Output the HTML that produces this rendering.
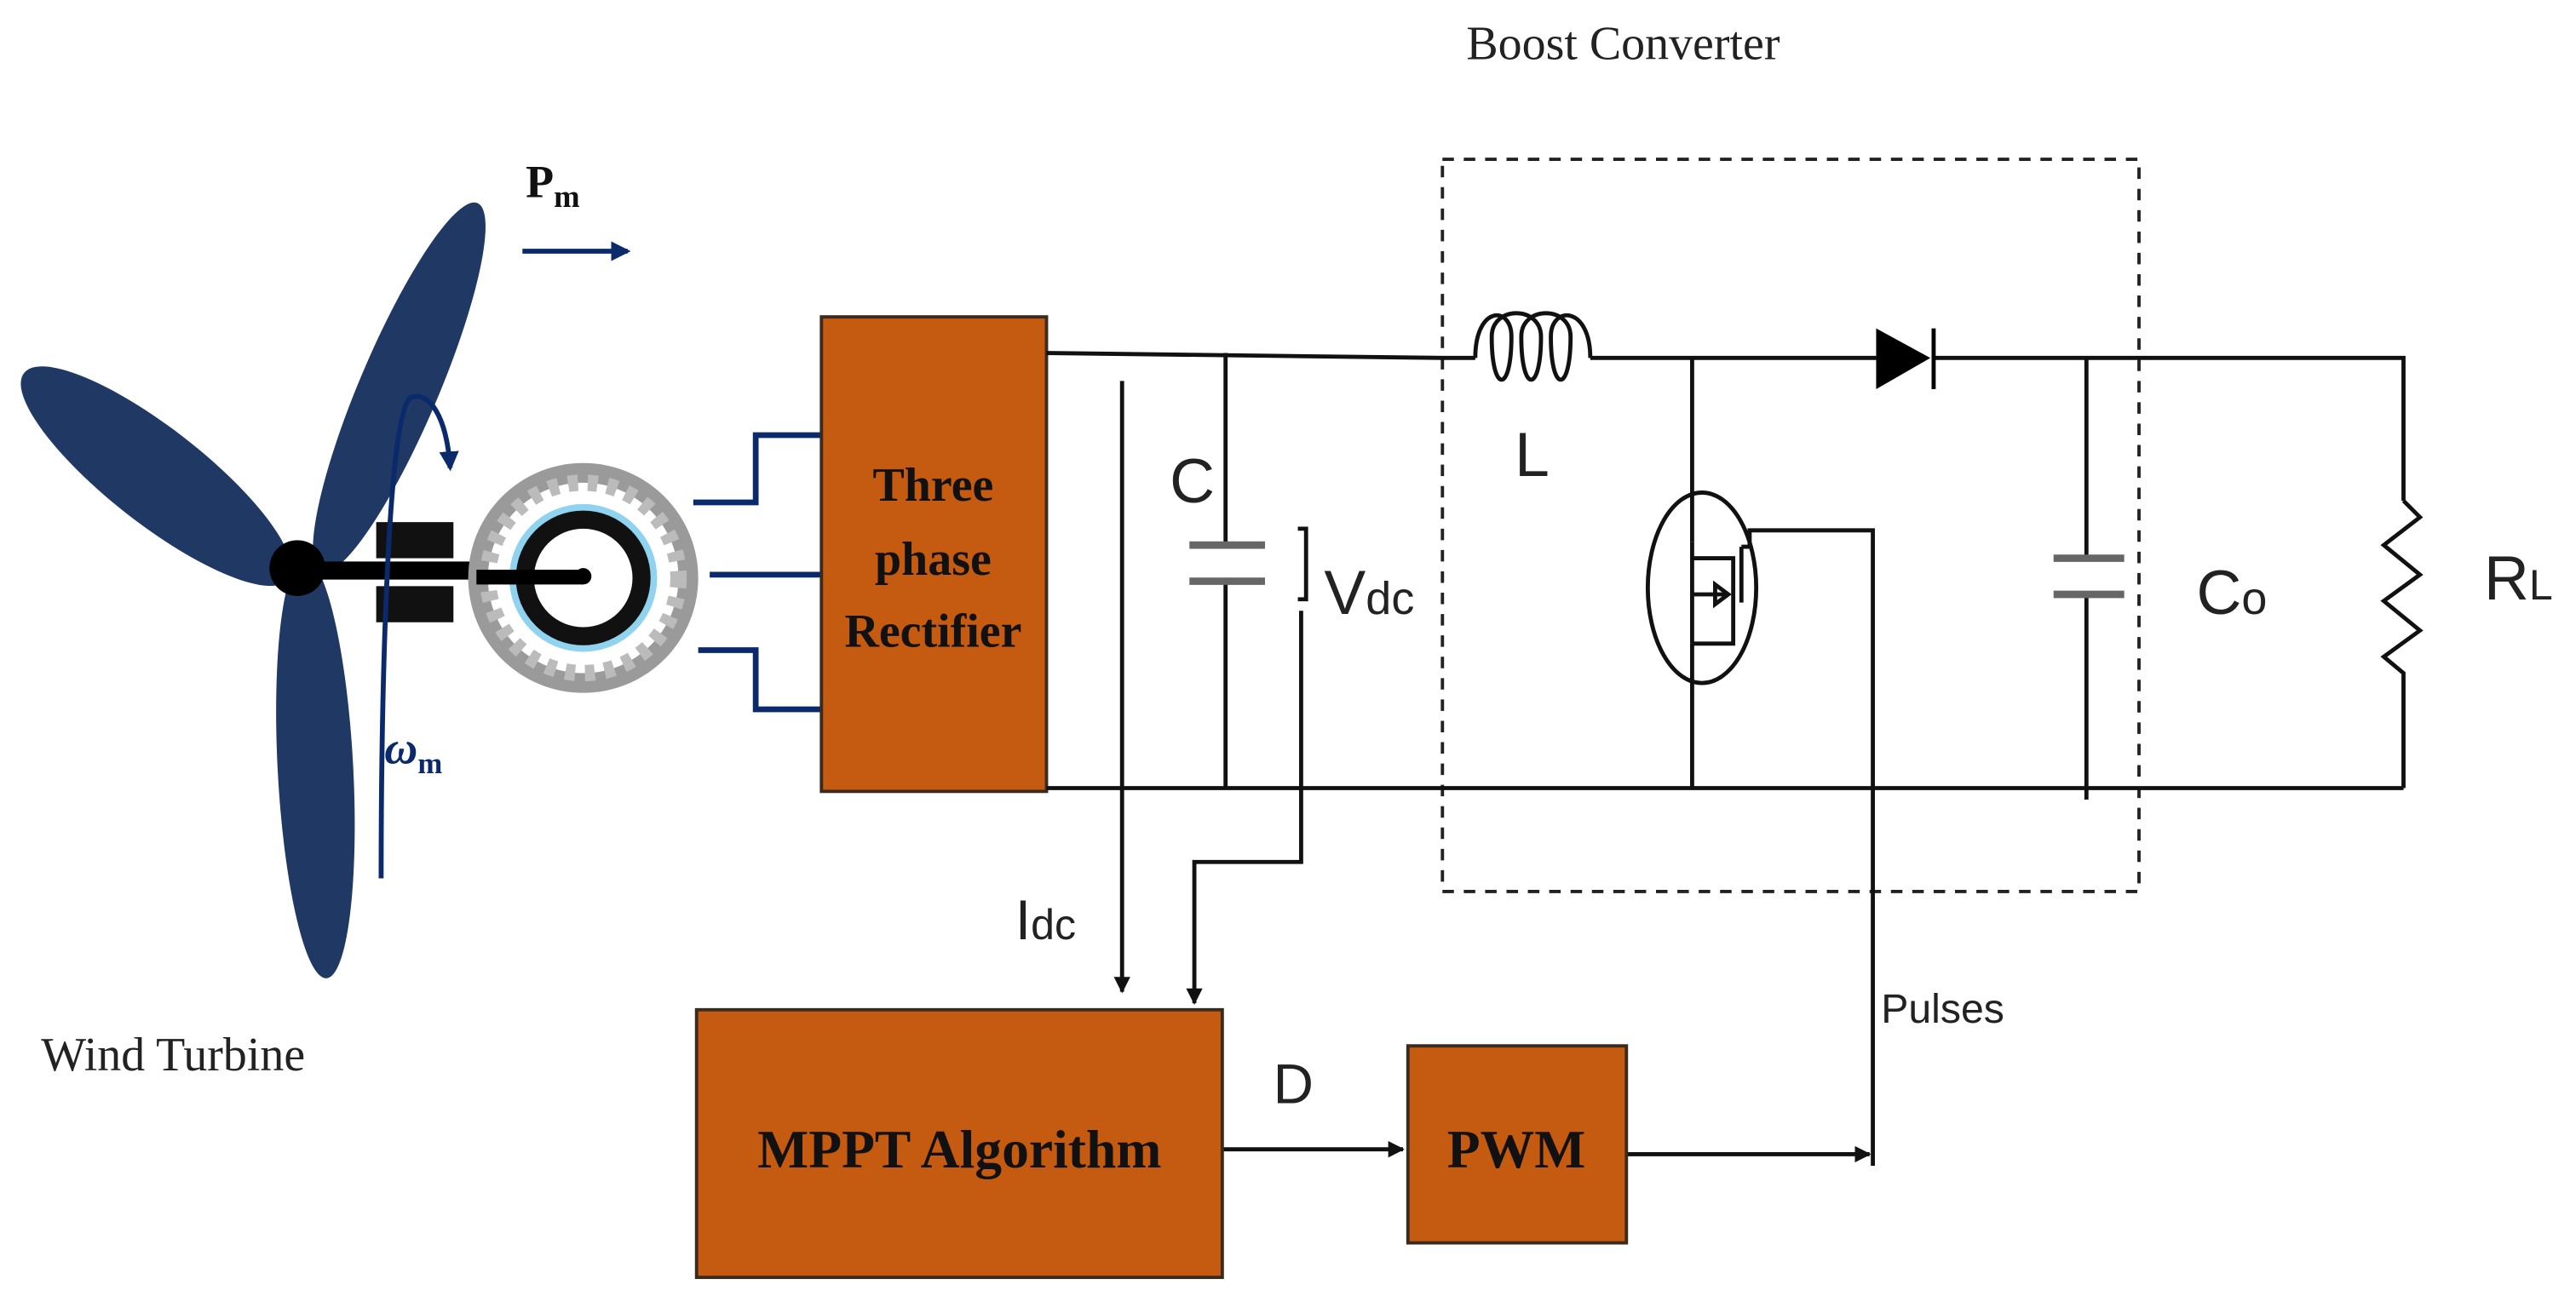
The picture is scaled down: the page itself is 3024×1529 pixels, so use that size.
<!DOCTYPE html>
<html><head><meta charset="utf-8"><style>html,body{margin:0;padding:0;background:#fff;overflow:hidden}svg{display:block}</style></head>
<body>
<svg width="3024" height="1529" viewBox="0 0 1568 793" preserveAspectRatio="none" xmlns="http://www.w3.org/2000/svg">
<defs>
<marker id="ah" markerWidth="10" markerHeight="10" refX="9" refY="5" orient="auto" markerUnits="userSpaceOnUse"><path d="M0,0 L10,5 L0,10 Z" fill="#111"/></marker>
<marker id="ahb" markerWidth="12" markerHeight="12" refX="10" refY="6" orient="auto" markerUnits="userSpaceOnUse"><path d="M0,0 L12,6 L0,12 Z" fill="#0b2a6b"/></marker>
</defs>
<rect width="1568" height="793" fill="#fff"/>
<text x="988" y="36" font-family="Liberation Serif, serif" font-size="29" text-anchor="middle" fill="#222">Boost Converter</text>
<rect x="878" y="97" width="424" height="446" fill="none" stroke="#222" stroke-width="2" stroke-dasharray="7,6"/>
<text x="320" y="120" font-family="Liberation Serif, serif" font-size="28" font-weight="bold" fill="#111">P<tspan font-size="19" dy="6">m</tspan></text>
<line x1="318" y1="153" x2="382" y2="153" stroke="#0b2a6b" stroke-width="3" marker-end="url(#ahb)"/>
<g fill="#203864">
<ellipse cx="0" cy="0" rx="24" ry="122" transform="translate(243,236) rotate(23)"/>
<ellipse cx="0" cy="0" rx="29" ry="102" transform="translate(95,290) rotate(-52)"/>
<ellipse cx="0" cy="0" rx="23" ry="128" transform="translate(192,468) rotate(-3)"/>
</g>
<circle cx="181" cy="346" r="17" fill="#000"/>
<rect x="195" y="342" width="165" height="11" fill="#000"/>
<rect x="229" y="318" width="47" height="22" fill="#111"/>
<rect x="229" y="357" width="47" height="22" fill="#111"/>
<circle cx="355" cy="352" r="70" fill="#9a9a9a"/>
<circle cx="355" cy="352" r="58" fill="#fff" stroke="#bbb" stroke-width="10" stroke-dasharray="6,6"/>
<circle cx="355" cy="352" r="45" fill="#8fd3ee"/>
<circle cx="355" cy="352" r="41" fill="#111"/>
<circle cx="355" cy="352" r="30" fill="#fff"/>
<rect x="290" y="347" width="65" height="9" fill="#000"/>
<circle cx="355" cy="351" r="5" fill="#000"/>
<path d="M232,535 C232,420 236,250 250,242 C262,238 272,255 274,285" fill="none" stroke="#0b2a6b" stroke-width="3" marker-end="url(#ahb)"/>
<text x="234" y="465" font-family="Liberation Serif, serif" font-size="28" font-style="italic" font-weight="bold" fill="#0b2a6b">ω<tspan font-size="18" dy="6" font-style="normal">m</tspan></text>
<g fill="none" stroke="#0b2a6b" stroke-width="3.5">
<path d="M422,306 H460 V265 H500"/>
<path d="M432,350 H500"/>
<path d="M425,396 H460 V432 H500"/>
</g>
<rect x="500" y="193" width="137" height="289" fill="#c55a11" stroke="#3b2a1e" stroke-width="2"/>
<g font-family="Liberation Serif, serif" font-size="29" font-weight="bold" fill="#111" text-anchor="middle">
<text x="568" y="305">Three</text><text x="568" y="350">phase</text><text x="568" y="394">Rectifier</text>
</g>
<g stroke="#111" stroke-width="2.5" fill="none">
<path d="M637,215 L878,218 H898"/>
<path d="M898,218 C898,186 920,186 920,205 C920,240 908,240 908,205 C908,186 938,186 938,205 C938,240 926,240 926,205 C926,186 956,186 956,205 C956,240 944,240 944,205 C944,186 968,186 968,218"/>
<path d="M968,218 H1142"/>
<path d="M1177,218 H1463 V305"/>
<path d="M1463,305 L1473,315 L1451,332 L1473,350 L1451,366 L1473,384 L1451,400 L1463,410 V480"/>
<path d="M637,480 H1463"/>
<path d="M746,215 V332 M746,353 V480"/>
<path d="M1270,218 V340 M1270,362 V487"/>
<path d="M1030,218 V330 M1030,392 V480"/>
<ellipse cx="1036" cy="358" rx="33" ry="58"/>
<path d="M1030,340 H1055 V392 H1030 M1030,330 V392 M1060,333 V367 M1060,333 H1065 V323 H1140 V710"/>
<path d="M1030,362 H1050 M1044,356 L1052,362 L1044,368 Z"/>
<path d="M683,232 V604" marker-end="url(#ah)"/>
<path d="M792,372 V525 H727 V611" marker-end="url(#ah)"/>
<path d="M790,322 H795 V365 H790"/>
<path d="M744,700 H854" marker-end="url(#ah)"/>
<path d="M990,703 H1138" marker-end="url(#ah)"/>
</g>
<g stroke="#666" stroke-width="4.5">
<line x1="724" y1="332" x2="770" y2="332"/><line x1="724" y1="354" x2="770" y2="354"/>
<line x1="1250" y1="340" x2="1293" y2="340"/><line x1="1250" y1="362" x2="1293" y2="362"/>
</g>
<path d="M1142,200 L1175,218 L1142,237 Z" fill="#000"/>
<line x1="1177" y1="200" x2="1177" y2="237" stroke="#000" stroke-width="2.5"/>
<g font-family="Liberation Sans, sans-serif" fill="#222">
<text x="712" y="306" font-size="38">C</text>
<text x="806" y="374" font-size="38">V<tspan font-size="28">dc</tspan></text>
<text x="922" y="290" font-size="38">L</text>
<text x="1337" y="374" font-size="38">C<tspan font-size="28">o</tspan></text>
<text x="1512" y="365" font-size="38">R<tspan font-size="26">L</tspan></text>
<text x="618" y="572" font-size="34">I<tspan font-size="26">dc</tspan></text>
<text x="775" y="672" font-size="34">D</text>
<text x="1145" y="623" font-size="25">Pulses</text>
</g>
<text x="25" y="652" font-family="Liberation Serif, serif" font-size="29" fill="#222">Wind Turbine</text>
<rect x="424" y="615" width="320" height="163" fill="#c55a11" stroke="#3b2a1e" stroke-width="2"/>
<text x="584" y="711" font-family="Liberation Serif, serif" font-size="33" font-weight="bold" text-anchor="middle" fill="#111">MPPT Algorithm</text>
<rect x="857" y="637" width="133" height="120" fill="#c55a11" stroke="#3b2a1e" stroke-width="2"/>
<text x="923" y="711" font-family="Liberation Serif, serif" font-size="33" font-weight="bold" text-anchor="middle" fill="#111">PWM</text>
</svg>
</body></html>
